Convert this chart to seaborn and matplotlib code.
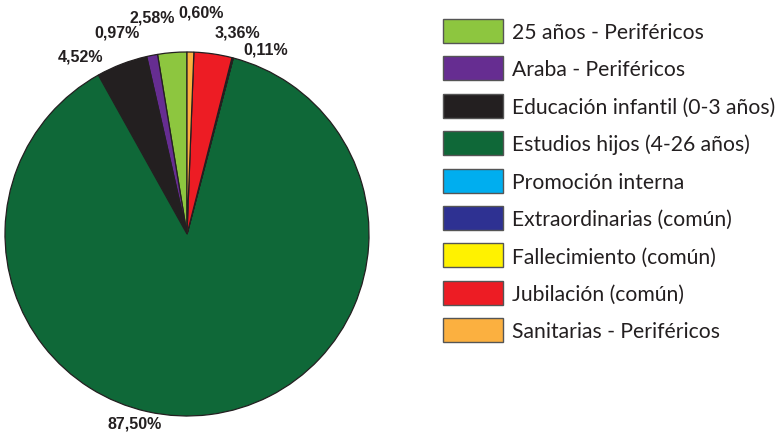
import matplotlib
matplotlib.use("Agg")
import matplotlib.pyplot as plt
from matplotlib.patches import Rectangle
import seaborn as sns

categories = [
    "25 años - Periféricos",
    "Araba - Periféricos",
    "Educación infantil (0-3 años)",
    "Estudios hijos (4-26 años)",
    "Promoción interna",
    "Extraordinarias (común)",
    "Fallecimiento (común)",
    "Jubilación (común)",
    "Sanitarias - Periféricos",
]
shares = [2.58, 0.97, 4.52, 87.50, 0.0, 0.0, 0.11, 3.36, 0.60]
colors = ["#8dc63f", "#662d91", "#231f20", "#0f6838", "#00aeef",
          "#2e3192", "#fff200", "#ed1c24", "#fbb040"]

# label anchor points (pixel coords from top-left) for the non-zero shares
label_pos = {
    0: (152, 18), 1: (117, 33), 2: (81, 57), 3: (135, 424),
    6: (266, 50), 7: (237, 33), 8: (201, 13),
}

sns.set_theme(style="white")
palette = sns.color_palette(colors)

W, H = 776, 434
fig = plt.figure(figsize=(W / 100, H / 100), dpi=100)

cx, cy, r = 187, 234, 182
ax = fig.add_axes([(cx - r) / W, (H - cy - r) / H, 2 * r / W, 2 * r / H])
ax.pie(shares, colors=palette, startangle=90, counterclock=True,
       wedgeprops=dict(edgecolor="#231f20", linewidth=0.9))
ax.set_xlim(-1, 1)
ax.set_ylim(-1, 1)
ax.set_aspect("equal")
ax.axis("off")

for i, (px, py) in label_pos.items():
    txt = f"{shares[i]:.2f}%".replace(".", ",")
    fig.text(px / W, 1 - py / H, txt, ha="center", va="center",
             fontsize=11.5, fontweight="bold", color="#231f20",
             family="Liberation Sans")

# legend
box_x, box_w, box_h = 443, 60, 24
row0, pitch = 31, 37.4
for k, (name, col) in enumerate(zip(categories, palette)):
    yc = row0 + k * pitch
    fig.patches.append(Rectangle(((box_x) / W, 1 - (yc + box_h / 2) / H),
                                 box_w / W, box_h / H,
                                 transform=fig.transFigure,
                                 facecolor=col, edgecolor="#555555",
                                 linewidth=1.0))
    fig.text(512 / W, 1 - yc / H, name, ha="left", va="center_baseline",
             fontsize=15.2, color="#231f20", family="Lato")

fig.savefig("out.png", dpi=100)
